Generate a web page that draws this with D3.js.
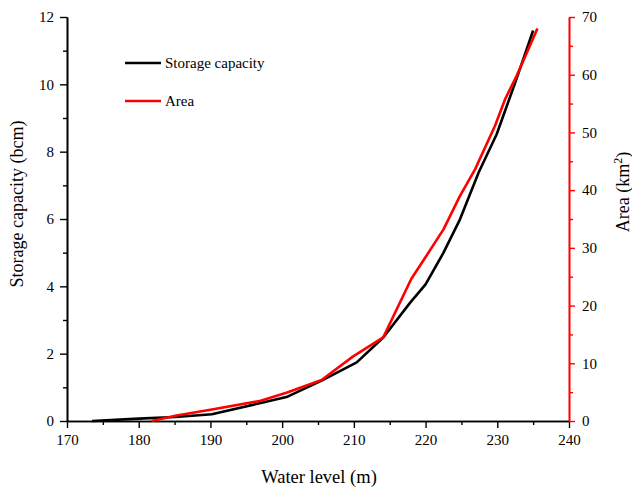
<!DOCTYPE html>
<html><head><meta charset="utf-8">
<script src="https://cdn.jsdelivr.net/npm/d3@7"></script>
<style>body{margin:0;background:#fff}svg{display:block}text{font-family:"Liberation Serif","Times New Roman",serif}</style>
</head><body><svg id="c" width="632" height="491"></svg>
<script>
const capLevels = [173.5,180,185.1,190.2,196.7,200.6,205.5,210.4,214.1,217.8,220,222.5,224.8,227.4,229.9,232.5,235];
const capValues = [0,0.07,0.12,0.2,0.52,0.71,1.2,1.74,2.48,3.5,4.06,5.0,5.99,7.38,8.51,10.05,11.6];
const areaLevels = [181.8,185.1,190.2,197,200.6,205.5,209.9,214.1,218,220.1,222.5,224.8,226.9,229.7,231.1,232.7,235.6];
const areaValues = [0,0.9,2.0,3.5,4.9,7.1,11.2,14.5,24.6,28.6,33.2,39,43.6,51.2,55.8,59.8,68];
const xTicks = [170,180,190,200,210,220,230,240];
const yLeftTicks = [0,2,4,6,8,10,12];
const yRightTicks = [0,10,20,30,40,50,60,70];
const seriesNames = ["Storage capacity","Area"];
const colors = ["#000000","#ff0000"];

const svg = d3.select("#c");
const L=67,R=569,T=17,B=421;
const x = d3.scaleLinear().domain([170,240]).range([L,R]);
const yl = d3.scaleLinear().domain([0,12]).range([B,T]);
const yr = d3.scaleLinear().domain([0,70]).range([B,T]);

function axisStyle(g,color,fs){
  g.selectAll("path").attr("stroke",color).attr("stroke-width",1.6);
  g.selectAll("line").attr("stroke",color).attr("stroke-width",1.4);
  g.selectAll("text").attr("fill","#000").style("font-size",fs+"px").style("font-family",'"Liberation Serif",serif');
}
const gxm = svg.append("g").attr("transform",`translate(0,${B})`)
  .call(d3.axisBottom(x).tickValues(d3.range(175,240,10)).tickSize(4).tickFormat("").tickSizeOuter(0));
axisStyle(gxm,"#000",14);
const gx = svg.append("g").attr("transform",`translate(0,${B})`)
  .call(d3.axisBottom(x).tickValues(xTicks).tickSize(7).tickPadding(6).tickSizeOuter(0));
axisStyle(gx,"#000",15);
const glm = svg.append("g").attr("transform",`translate(${L},0)`)
  .call(d3.axisLeft(yl).tickValues(d3.range(1,12,2)).tickSize(4).tickFormat("").tickSizeOuter(0));
axisStyle(glm,"#000",14);
const gl = svg.append("g").attr("transform",`translate(${L},0)`)
  .call(d3.axisLeft(yl).tickValues(yLeftTicks).tickSize(7).tickPadding(6).tickSizeOuter(0));
axisStyle(gl,"#000",15);
const grm = svg.append("g").attr("transform",`translate(${R},0)`)
  .call(d3.axisRight(yr).tickValues(d3.range(5,70,10)).tickSize(4).tickFormat("").tickSizeOuter(0));
axisStyle(grm,"#ff0000",14);
const gr = svg.append("g").attr("transform",`translate(${R},0)`)
  .call(d3.axisRight(yr).tickValues(yRightTicks).tickSize(6).tickPadding(7).tickSizeOuter(0));
axisStyle(gr,"#ff0000",15);

const line = (xs,ys,ysc)=> d3.line().x((d,i)=>x(xs[i])).y((d,i)=>ysc(ys[i]))(xs);
svg.append("path").attr("d",line(capLevels,capValues,yl)).attr("fill","none").attr("stroke",colors[0]).attr("stroke-width",2.6).attr("stroke-linejoin","round");
svg.append("path").attr("d",line(areaLevels,areaValues,yr)).attr("fill","none").attr("stroke",colors[1]).attr("stroke-width",2.6).attr("stroke-linejoin","round");

svg.append("text").attr("x",319).attr("y",483).attr("text-anchor","middle").style("font-size","18.5px").text("Water level (m)");
svg.append("text").attr("transform","translate(23,204) rotate(-90)").attr("text-anchor","middle").style("font-size","18px").text("Storage capacity (bcm)");
const rt = svg.append("text").attr("transform","translate(629,192) rotate(-90)").attr("text-anchor","middle").style("font-size","18px");
rt.append("tspan").text("Area (km");
rt.append("tspan").attr("dy",-7).style("font-size","12px").text("2");
rt.append("tspan").attr("dy",7).text(")");

seriesNames.forEach((n,i)=>{
  const yy = 63 + i*38;
  svg.append("line").attr("x1",125).attr("x2",161).attr("y1",yy).attr("y2",yy).attr("stroke",colors[i]).attr("stroke-width",2.6);
  svg.append("text").attr("x",165).attr("y",yy+5).style("font-size","15px").text(n);
});
</script></body></html>
